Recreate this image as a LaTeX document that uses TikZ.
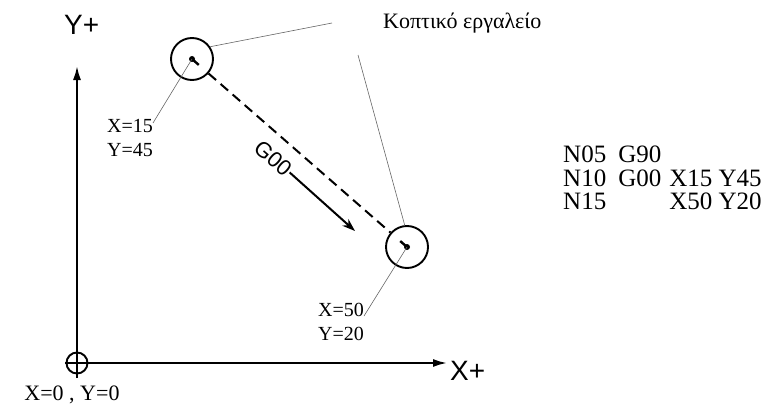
\documentclass[tikz,border=0pt]{standalone}
\usepackage{fontspec}
\setmainfont{Liberation Serif}
\newfontfamily\axisfont{Liberation Sans}
\usetikzlibrary{arrows.meta,positioning,calc}

\begin{document}
\begin{tikzpicture}[x=1pt,y=-1pt,
    axis/.style={line width=2pt,-{Latex[length=14pt,width=8pt]}},
    tool/.style={draw,circle,line width=1.9pt,minimum size=42pt,inner sep=0pt},
    leader/.style={gray!80!black,line width=0.6pt},
    coordlabel/.style={align=left,inner sep=0pt,font=\fontsize{20}{23.5}\selectfont}]
          \useasboundingbox (0,0) rectangle (770,412);
          % axes
          \node[draw,circle,line width=1.9pt,minimum size=21pt,inner sep=0pt] (origin) at (77,363) {};
          \coordinate (ybot) at (77,378);
          \coordinate (ytip) at (77,66);
          \coordinate (xleft) at (65,363);
          \coordinate (xtip) at (447,363);
          \draw[axis] (ybot) -- (ytip);
          \draw[axis] (xleft) -- (xtip);
          \node[anchor=base west,inner sep=0pt,font=\axisfont\fontsize{28}{30}\selectfont] (ylab) at (64,35) {Y+};
          \node[anchor=base west,inner sep=0pt,font=\axisfont\fontsize{28}{30}\selectfont] (xlab) at (450,380) {X+};
          \node[anchor=base,inner sep=0pt,font=\fontsize{22}{24}\selectfont] (olab) at (72,400) {X=0\ ,\ Y=0};
          % tool positions
          \node[tool] (toolA) at (192,59) {};
          \node[tool] (toolB) at (407,247) {};
          \draw[line width=2pt,dash pattern=on 10pt off 6pt] (toolA) -- (toolB);
          \draw[line width=2.4pt] (toolA.center) -- ($(toolA.center)!9pt!(toolB.center)$);
          \draw[line width=2.4pt] (toolB.center) -- ($(toolB.center)!9pt!(toolA.center)$);
          \fill (toolA.center) circle (3pt);
          \fill (toolB.center) circle (3pt);
          \node[anchor=base west,inner sep=0pt,font=\fontsize{22}{24}\selectfont] (toollab) at (383,29) {Κοπτικό εργαλείο};
          \coordinate (leadA) at (332,23);
          \coordinate (leadB) at (358,55);
          \draw[leader] (leadA) -- (toolA.34);
          \draw[leader] (leadB) -- (toolB.96);
          \node[coordlabel] (posA) at (130,138) {X=15\\Y=45};
          \node[coordlabel] (posB) at (341,322) {X=50\\Y=20};
          \coordinate (endA) at (153,123);
          \coordinate (endB) at (364,316);
          \draw[leader] (endA) -- (toolA.center);
          \draw[leader] (endB) -- (toolB.center);
          % rapid move
          \node[font=\axisfont\fontsize{22}{24}\selectfont,rotate=-41,inner sep=1pt] (g00) at (273,158) {G00};
          \coordinate (gtip) at (355,231);
          \draw[line width=2pt,-{Stealth[length=13pt,width=9pt]}] (g00.east) -- (gtip);
          % program
          \node[anchor=north west,inner sep=0pt,font=\fontsize{25}{22.5}\selectfont] (prog) at (563,146)
            {\begin{tabular}{@{}l@{\hspace{12pt}}l@{\hspace{8pt}}l@{}}
              N05 & G90 & \\
              N10 & G00 & X15 Y45\\
              N15 &     & X50 Y20
            \end{tabular}};
\end{tikzpicture}
\end{document}
